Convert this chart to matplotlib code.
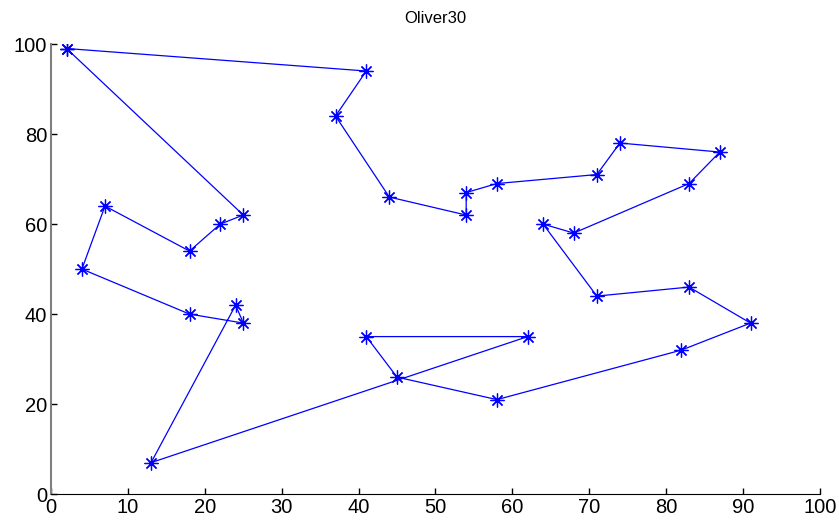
import matplotlib
matplotlib.use("Agg")
import matplotlib.pyplot as plt

# tour order of the Oliver30 cities (closed loop)
tour_x = [2, 41, 37, 44, 54, 54, 58, 71, 74, 87, 83, 68, 64, 71, 83, 91,
          82, 58, 45, 41, 62, 13, 24, 25, 18, 4, 7, 18, 22, 25, 2]
tour_y = [99, 94, 84, 66, 62, 67, 69, 71, 78, 76, 69, 58, 60, 44, 46, 38,
          32, 21, 26, 35, 35, 7, 42, 38, 40, 50, 64, 54, 60, 62, 99]
x_ticks = [0, 10, 20, 30, 40, 50, 60, 70, 80, 90, 100]
y_ticks = [0, 20, 40, 60, 80, 100]

plt.rcParams['font.family'] = ['Liberation Sans', 'DejaVu Sans']

fig = plt.figure(figsize=(8.39, 5.24), dpi=100)
ax = fig.add_axes([0.061, 0.057, 0.916, 0.859])
# matlab style '*' marker: 8-armed asterisk
ax.plot(tour_x, tour_y, color='#0000ff', lw=0.9, marker=(8, 2, 0),
        markersize=10, markeredgewidth=0.9, markeredgecolor='#0000ff')

ax.set_xlim(0, 100)
ax.set_ylim(0, 100)
ax.set_xticks(x_ticks)
ax.set_yticks(y_ticks)
ax.tick_params(direction='in', length=4, width=1, labelsize=14.5, pad=3)
ax.spines['top'].set_visible(False)
ax.spines['right'].set_visible(False)
ax.spines['left'].set_color('#7f7f7f')
ax.spines['left'].set_linewidth(1.5)
ax.spines['bottom'].set_color('black')
ax.set_title('Oliver30', fontsize=12, pad=15)

fig.savefig('out.png', dpi=100)
